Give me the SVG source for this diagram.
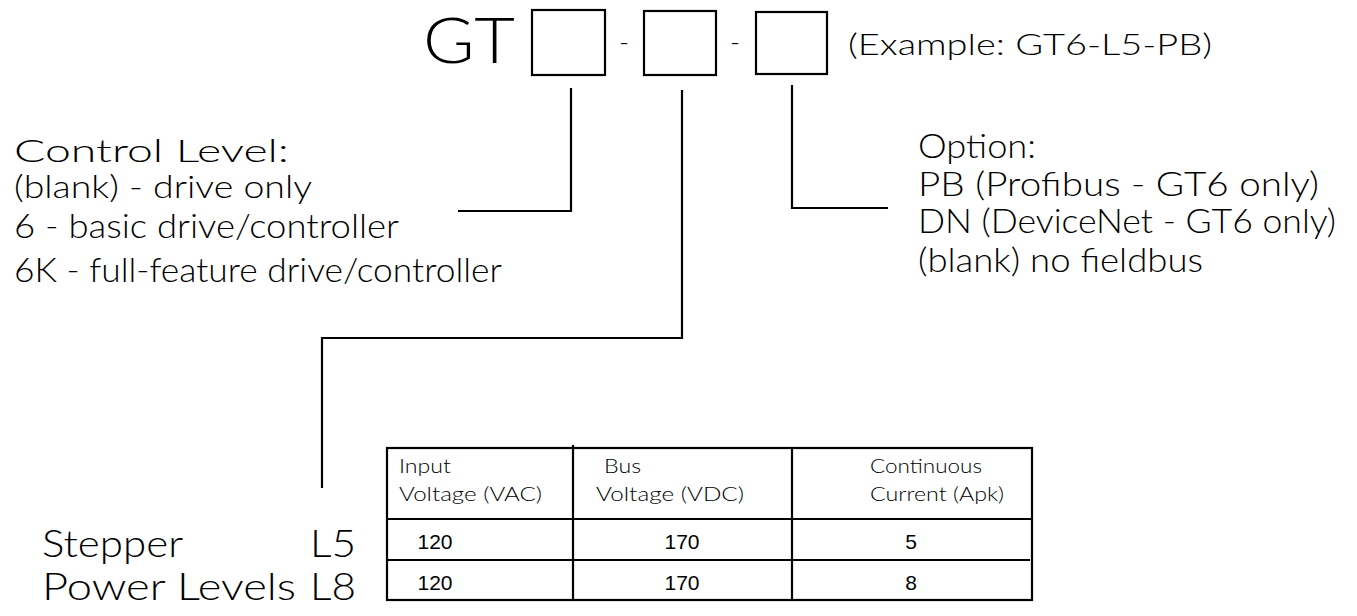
<svg xmlns="http://www.w3.org/2000/svg" width="1357" height="616" viewBox="0 0 1357 616">
<style>
.t{font-family:"Lato","DejaVu Sans","Liberation Sans",sans-serif;font-weight:300;fill:#000}
.n{font-family:"Liberation Sans",Arial,sans-serif;fill:#000}
.b{fill:#fff;stroke:#000;stroke-width:2.2}
.c{fill:none;stroke:#000;stroke-width:2.2}
</style>
<rect width="1357" height="616" fill="#fff"/>
<g id="code">
<text class="t" x="423" y="63" font-size="63" textLength="92" lengthAdjust="spacingAndGlyphs">GT</text>
<rect class="b" x="532" y="10" width="73" height="65"/>
<text class="t" x="619" y="52" font-size="27">-</text>
<rect class="b" x="644" y="11" width="72" height="64"/>
<text class="t" x="730" y="52" font-size="27">-</text>
<rect class="b" x="756" y="12" width="71" height="62"/>
<text class="t" x="848" y="55" font-size="29" textLength="364" lengthAdjust="spacingAndGlyphs">(Example: GT6-L5-PB)</text>
</g>
<g id="control-level">
<text class="t" x="14" y="162" font-size="31" textLength="275" lengthAdjust="spacingAndGlyphs">Control Level:</text>
<text class="t" x="14" y="198" font-size="31" textLength="298" lengthAdjust="spacingAndGlyphs">(blank) - drive only</text>
<text class="t" x="14" y="238" font-size="33" textLength="385" lengthAdjust="spacingAndGlyphs">6 - basic drive/controller</text>
<text class="t" x="14" y="282" font-size="33" textLength="488" lengthAdjust="spacingAndGlyphs">6K - full-feature drive/controller</text>
</g>
<g id="option">
<text class="t" x="918" y="158" font-size="33" textLength="118" lengthAdjust="spacingAndGlyphs">Option:</text>
<text class="t" x="918" y="196" font-size="33" textLength="401" lengthAdjust="spacingAndGlyphs">PB (Profibus - GT6 only)</text>
<text class="t" x="918" y="233" font-size="33" textLength="418" lengthAdjust="spacingAndGlyphs">DN (DeviceNet - GT6 only)</text>
<text class="t" x="918" y="272" font-size="33" textLength="285" lengthAdjust="spacingAndGlyphs">(blank) no fieldbus</text>
</g>
<g id="power-levels">
<text class="t" x="42" y="557" font-size="37" textLength="141" lengthAdjust="spacingAndGlyphs">Stepper</text>
<text class="t" x="310" y="557" font-size="37" textLength="46" lengthAdjust="spacingAndGlyphs">L5</text>
<text class="t" x="42" y="600" font-size="37" textLength="254" lengthAdjust="spacingAndGlyphs">Power Levels</text>
<text class="t" x="310" y="600" font-size="37" textLength="46" lengthAdjust="spacingAndGlyphs">L8</text>
</g>
<g id="table">
<rect class="b" x="387" y="448" width="645" height="152"/>
<path class="c" d="M573 445V600M792 448V600M387 519H1032M387 560H1030"/>
<text class="t" x="399" y="473" font-size="19" textLength="52" lengthAdjust="spacingAndGlyphs">Input</text>
<text class="t" x="399" y="501" font-size="19" textLength="143" lengthAdjust="spacingAndGlyphs">Voltage (VAC)</text>
<text class="t" x="604" y="473" font-size="19" textLength="37" lengthAdjust="spacingAndGlyphs">Bus</text>
<text class="t" x="596" y="501" font-size="19" textLength="148" lengthAdjust="spacingAndGlyphs">Voltage (VDC)</text>
<text class="t" x="870" y="473" font-size="19" textLength="112" lengthAdjust="spacingAndGlyphs">Continuous</text>
<text class="t" x="870" y="501" font-size="19" textLength="134" lengthAdjust="spacingAndGlyphs">Current (Apk)</text>
<text class="n" x="435" y="549" font-size="21" text-anchor="middle">120</text>
<text class="n" x="682" y="549" font-size="21" text-anchor="middle">170</text>
<text class="n" x="911" y="549" font-size="21" text-anchor="middle">5</text>
<text class="n" x="435" y="590" font-size="21" text-anchor="middle">120</text>
<text class="n" x="682" y="590" font-size="21" text-anchor="middle">170</text>
<text class="n" x="911" y="590" font-size="21" text-anchor="middle">8</text>
</g>
<g id="connectors">
<path class="c" d="M571 88V211H458"/>
<path class="c" d="M682 90V338H322V488"/>
<path class="c" d="M792 85V208H888"/>
</g>
</svg>
